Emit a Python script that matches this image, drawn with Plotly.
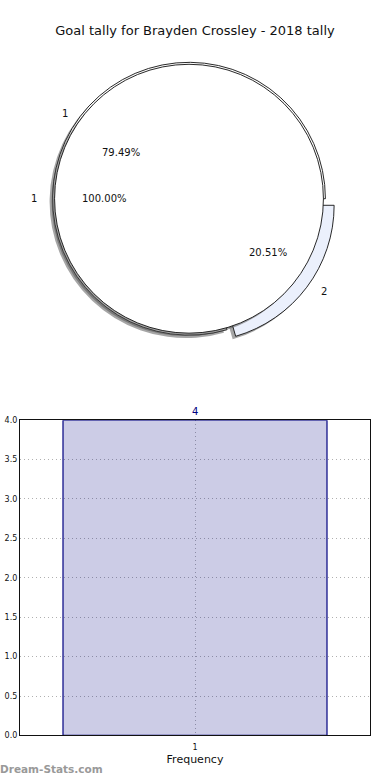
import numpy as np
import plotly.graph_objects as go

# ---- data ----
title = "Goal tally for Brayden Crossley - 2018 tally"
outer_labels = ["1", "2"]
outer_values = [31, 8]          # 79.49% / 20.51%
outer_pull = [0, 0.08]
inner_labels = ["1"]
inner_values = [4]              # 100.00%
bar_categories = ["1"]
bar_values = [4]
y_ticks = [0, 0.5, 1.0, 1.5, 2.0, 2.5, 3.0, 3.5, 4.0]

W, H = 390, 780
FONT = "DejaVu Sans"

# pie geometry (pixels)
cx, cy = 189, 197
R_out = 138
R_in = 136
rx, ry = 141, 130          # for label placement
label_explode = 0.1
shadow_dx, shadow_dy = -3, 3

def dom(cxp, cyp, half):
    return dict(x=[(cxp - half) / W, (cxp + half) / W],
                y=[1 - (cyp + half) / H, 1 - (cyp - half) / H])

def start_rotation(values):
    # plotly (counterclockwise): first slice spans [rot, rot + a1] clockwise from 12 o'clock;
    # the reference starts the first slice at 3 o'clock going counterclockwise
    a1 = 360.0 * values[0] / sum(values)
    rot = 90 - a1
    while rot < -180:
        rot += 360
    return rot

maxpull = max(outer_pull)
half_out = R_out * (1 + maxpull)
half_in = R_in

fig = go.Figure()
shadow_col = "rgba(77,77,77,0.5)"
common = dict(sort=False, direction="counterclockwise",
              textinfo="none", hoverinfo="skip", showlegend=False)
rot_out = start_rotation(outer_values)
rot_in = start_rotation(inner_values)

# outer shadow
fig.add_trace(go.Pie(labels=outer_labels, values=outer_values, pull=outer_pull, rotation=rot_out,
                     domain=dom(cx + shadow_dx, cy + shadow_dy, half_out),
                     marker=dict(colors=[shadow_col] * 2, line=dict(width=0)), **common))
# outer pie
fig.add_trace(go.Pie(labels=outer_labels, values=outer_values, pull=outer_pull, rotation=rot_out,
                     domain=dom(cx, cy, half_out),
                     marker=dict(colors=["#ffffff", "#ebf0fc"], line=dict(color="#111111", width=0.9)),
                     **common))
# inner shadow
fig.add_trace(go.Pie(labels=inner_labels, values=inner_values, rotation=rot_in,
                     domain=dom(cx + shadow_dx, cy + shadow_dy, half_in),
                     marker=dict(colors=[shadow_col], line=dict(width=0)), **common))
# inner pie
fig.add_trace(go.Pie(labels=inner_labels, values=inner_values, rotation=rot_in,
                     domain=dom(cx, cy, half_in),
                     marker=dict(colors=["#ffffff"], line=dict(color="#111111", width=0.9)),
                     **common))

annotations = []

def pie_texts(labels, values, pulls):
    tot = float(sum(values))
    start = 0.0
    for lab, v, p in zip(labels, values, pulls):
        frac = v / tot
        mid = np.deg2rad((start + frac / 2) * 360)
        start += frac
        e = label_explode if p > 0 else 0.0
        for dist, txt in ((1.1, lab), (0.6, "%.2f%%" % (frac * 100))):
            d = dist + e
            px = cx + d * rx * np.cos(mid)
            py = cy - d * ry * np.sin(mid)
            annotations.append(dict(x=px / W, y=1 - py / H, xref="paper", yref="paper",
                                    text=txt, showarrow=False,
                                    font=dict(family=FONT, size=10, color="#111111"),
                                    xanchor="center", yanchor="middle"))

pie_texts(outer_labels, outer_values, outer_pull)
pie_texts(inner_labels, inner_values, [0] * len(inner_values))

# bar chart
fig.add_trace(go.Bar(x=[0], y=bar_values, width=0.8,
                     marker=dict(color="rgba(0,0,128,0.2)", line=dict(color="#000080", width=1.2)),
                     hoverinfo="skip", showlegend=False))

annotations.append(dict(x=0, y=bar_values[0], xref="x", yref="y", text=str(bar_values[0]),
                        showarrow=False, yanchor="bottom", yshift=1,
                        font=dict(family=FONT, size=10, color="#000080")))
annotations.append(dict(x=0, y=1 - 774 / H, xref="paper", yref="paper", text="<b>Dream-Stats.com</b>",
                        showarrow=False, xanchor="left", yanchor="middle", xshift=-2,
                        font=dict(family=FONT, size=10.5, color="#999999")))

grid_common = dict(showgrid=True, gridcolor="#b0b0b0", griddash="1px,3px", gridwidth=1,
                   showline=True, linecolor="#111111", linewidth=1.2, mirror=True,
                   zeroline=False, layer="above traces",
                   tickfont=dict(family=FONT, size=8, color="#111111"))

fig.update_layout(
    width=W, height=H, margin=dict(l=0, r=0, t=0, b=0),
    paper_bgcolor="white", plot_bgcolor="white",
    title=dict(text=title, x=0.5, xanchor="center", y=1 - 30 / H, yanchor="middle",
               font=dict(family=FONT, size=13, color="#111111")),
    annotations=annotations,
    xaxis=dict(domain=[20 / W, 370 / W], range=[-0.5303, 0.5303],
               tickvals=[0], ticktext=bar_categories, ticklabelstandoff=4,
               title=dict(text="Frequency", font=dict(family=FONT, size=11, color="#111111"),
                          standoff=4),
               **grid_common),
    yaxis=dict(domain=[1 - 740 / H, 1 - 421 / H], range=[0, 4.0],
               tickvals=y_ticks, tickformat=".1f",
               **grid_common),
)

fig.write_html("out.html")
